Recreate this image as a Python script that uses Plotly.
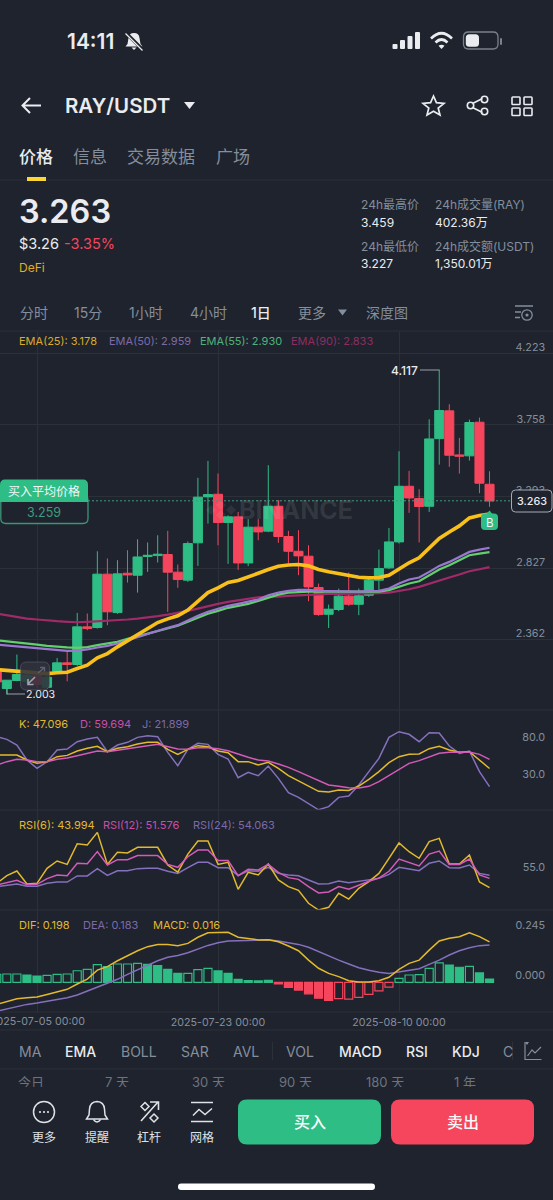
import pandas as pd
import plotly.graph_objects as go

BG = "#1e232d"
GRID = "#2b3039"
GREY = "#848e9c"
WHITE = "#eaecef"
UP = "#2ebd85"
DOWN = "#f6465d"
YELLOW = "#e3b92d"
PINK = "#d55bb9"
PURPLE = "#8570bd"

dates = pd.date_range("2025-07-01", periods=50)

candle_open = [2.151, 2.043, 2.095, 2.09, 2.13, 2.051, 2.155, 2.210, 2.199, 2.444,
               2.440, 2.787, 2.537, 2.793, 2.780, 2.902, 2.908, 2.915, 2.800, 2.748,
               2.991, 3.290, 3.307, 3.123, 3.160, 2.860, 3.093, 3.067, 3.229, 3.032,
               2.936, 2.904, 2.700, 2.526, 2.557, 2.644, 2.591, 2.650, 2.748, 2.828,
               2.997, 3.359, 3.279, 3.229, 3.669, 3.850, 3.563, 3.557, 3.776, 3.372]
candle_high = [2.16, 2.097, 2.264, 2.16, 2.15, 2.125, 2.242, 2.281, 2.535, 2.531,
               2.936, 2.889, 2.878, 2.943, 3.014, 2.993, 3.040, 3.069, 2.850, 3.000,
               3.414, 3.524, 3.442, 3.170, 3.192, 3.145, 3.145, 3.496, 3.268, 3.069,
               3.073, 2.975, 2.726, 2.589, 2.693, 2.798, 2.693, 2.776, 2.947, 3.088,
               3.587, 3.459, 3.340, 3.795, 4.117, 3.893, 3.674, 3.793, 3.806, 3.457]
candle_low = [2.07, 2.003, 2.09, 2.07, 2.05, 2.04, 2.15, 2.090, 2.19, 2.422,
              2.433, 2.455, 2.529, 2.732, 2.667, 2.802, 2.863, 2.542, 2.698, 2.737,
              2.841, 3.116, 2.975, 2.854, 2.815, 2.839, 3.008, 3.06, 2.991, 2.858,
              2.780, 2.611, 2.516, 2.437, 2.546, 2.581, 2.520, 2.639, 2.683, 2.82,
              2.986, 3.186, 2.993, 3.192, 3.500, 3.485, 3.442, 3.526, 3.314, 3.225]
candle_close = [2.086, 2.097, 2.134, 2.13, 2.07, 2.116, 2.210, 2.199, 2.444, 2.433,
                2.787, 2.542, 2.789, 2.782, 2.899, 2.910, 2.917, 2.800, 2.752, 2.986,
                3.288, 3.305, 3.123, 3.160, 2.860, 3.093, 3.062, 3.229, 3.032, 2.936,
                2.906, 2.704, 2.524, 2.559, 2.644, 2.591, 2.646, 2.748, 2.824, 2.997,
                3.359, 3.283, 3.227, 3.667, 3.852, 3.561, 3.555, 3.774, 3.379, 3.263]

ema25 = [2.166, 2.160, 2.156, 2.149, 2.143, 2.140, 2.145, 2.149, 2.173, 2.195,
         2.242, 2.270, 2.314, 2.353, 2.396, 2.433, 2.472, 2.496, 2.516, 2.553,
         2.611, 2.667, 2.698, 2.733, 2.746, 2.767, 2.793, 2.817, 2.839, 2.847,
         2.850, 2.841, 2.817, 2.802, 2.789, 2.776, 2.767, 2.763, 2.765, 2.780,
         2.824, 2.861, 2.893, 2.954, 3.019, 3.062, 3.101, 3.153, 3.169, 3.178]
ema50 = [2.329, 2.323, 2.316, 2.310, 2.303, 2.297, 2.292, 2.288, 2.290, 2.297,
         2.310, 2.320, 2.336, 2.357, 2.379, 2.401, 2.422, 2.438, 2.455, 2.487,
         2.516, 2.542, 2.563, 2.581, 2.594, 2.607, 2.622, 2.650, 2.667, 2.678,
         2.685, 2.685, 2.678, 2.676, 2.674, 2.674, 2.674, 2.676, 2.678, 2.694,
         2.726, 2.752, 2.765, 2.802, 2.841, 2.867, 2.900, 2.932, 2.947, 2.959]
ema55 = [2.357, 2.351, 2.342, 2.336, 2.329, 2.320, 2.314, 2.310, 2.307, 2.312,
         2.325, 2.336, 2.347, 2.366, 2.383, 2.401, 2.418, 2.433, 2.451, 2.477,
         2.503, 2.529, 2.548, 2.568, 2.581, 2.594, 2.613, 2.635, 2.654, 2.667,
         2.672, 2.674, 2.674, 2.674, 2.672, 2.672, 2.672, 2.672, 2.674, 2.683,
         2.704, 2.726, 2.741, 2.780, 2.817, 2.845, 2.878, 2.910, 2.921, 2.930]
ema90 = [2.531, 2.520, 2.509, 2.498, 2.492, 2.485, 2.481, 2.477, 2.474, 2.477,
         2.481, 2.483, 2.485, 2.492, 2.498, 2.505, 2.514, 2.524, 2.535, 2.548,
         2.563, 2.581, 2.594, 2.607, 2.618, 2.629, 2.637, 2.641, 2.641, 2.646,
         2.650, 2.654, 2.657, 2.659, 2.659, 2.659, 2.659, 2.661, 2.663, 2.667,
         2.676, 2.689, 2.704, 2.726, 2.748, 2.765, 2.785, 2.806, 2.819, 2.833]

kdj_k = [65.7, 66.2, 65.7, 58.8, 54.2, 56.5, 63.4, 65.2, 71.2, 74.9,
         77.7, 70.3, 74.9, 77.2, 80.9, 83.2, 83.2, 73.5, 66.6, 73.5,
         78.6, 77.2, 71.2, 68.9, 56.5, 56.5, 51.9, 55.6, 47.3, 37.1,
         30.2, 22.8, 15.5, 14.5, 17.3, 16.8, 22.8, 32.0, 42.7, 55.1,
         63.4, 66.6, 67.1, 74.4, 77.7, 72.6, 69.4, 70.3, 58.8, 47.1]
kdj_d = [51.9, 56.5, 59.7, 58.8, 56.5, 56.5, 59.7, 61.5, 64.8, 68.0,
         71.2, 70.3, 72.6, 74.0, 76.3, 78.6, 80.4, 77.7, 74.0, 73.5,
         75.8, 75.8, 74.4, 71.7, 66.6, 62.5, 58.8, 57.4, 53.3, 48.6,
         42.7, 36.7, 29.7, 24.2, 22.4, 20.5, 20.1, 22.4, 28.8, 37.1,
         46.3, 54.2, 57.9, 63.4, 68.0, 69.4, 69.8, 69.8, 66.6, 59.7]
kdj_j = [91.0, 87.3, 79.5, 58.8, 47.3, 56.5, 72.6, 74.0, 84.1, 87.8,
         90.1, 70.3, 79.5, 83.2, 90.1, 92.4, 91.0, 69.4, 50.9, 73.5,
         81.8, 80.4, 66.6, 60.2, 34.4, 41.7, 37.1, 50.5, 33.4, 13.6,
         7.2, -1.1, -10.0, -5.7, 7.2, 9.0, 24.2, 42.7, 61.1, 90.1,
         97.9, 94.3, 84.1, 96.6, 96.1, 78.1, 68.0, 71.2, 42.7, 21.9]

rsi6 = [47.5, 53.8, 57.7, 47.0, 47.5, 59.9, 65.9, 63.1, 80.1, 79.0,
        89.4, 63.1, 73.0, 72.5, 77.1, 77.1, 77.1, 62.6, 56.8, 71.6,
        82.3, 82.3, 63.1, 64.8, 42.6, 56.6, 54.4, 63.4, 50.3, 44.8,
        41.8, 31.1, 25.6, 27.8, 39.3, 34.6, 43.4, 48.9, 55.7, 68.1,
        80.7, 73.5, 68.1, 81.8, 84.5, 63.4, 63.4, 70.8, 48.6, 44.0]
rsi12 = [46.2, 48.3, 50.0, 46.4, 46.7, 51.4, 54.4, 53.8, 64.0, 63.7,
         73.6, 62.6, 67.0, 67.0, 70.3, 70.3, 70.3, 63.1, 60.7, 69.4,
         74.9, 74.9, 66.2, 66.2, 53.8, 59.0, 58.5, 63.1, 56.6, 52.2,
         50.8, 44.8, 39.6, 40.4, 44.8, 42.6, 46.2, 49.2, 51.9, 57.4,
         67.5, 64.5, 61.8, 71.6, 74.1, 63.1, 63.1, 67.5, 54.4, 51.6]
rsi24 = [44.8, 46.2, 47.0, 45.1, 45.1, 47.5, 48.6, 48.6, 53.6, 53.6,
         59.6, 54.1, 57.9, 57.9, 59.6, 59.9, 59.9, 57.4, 55.7, 60.4,
         64.8, 64.8, 60.4, 60.4, 53.8, 57.9, 57.4, 60.7, 55.7, 54.4,
         53.8, 50.3, 47.0, 47.2, 49.4, 48.1, 49.4, 50.5, 51.6, 54.9,
         60.7, 59.3, 57.9, 64.0, 65.9, 60.4, 60.1, 62.6, 55.7, 54.1]

macd_dif = [-0.108, -0.095, -0.080, -0.075, -0.072, -0.059, -0.046, -0.034, -0.008, 0.016,
            0.060, 0.077, 0.106, 0.132, 0.155, 0.175, 0.185, 0.185, 0.180, 0.191,
            0.221, 0.243, 0.243, 0.245, 0.221, 0.214, 0.208, 0.209, 0.199, 0.178,
            0.155, 0.109, 0.069, 0.044, 0.028, 0.008, 0.002, 0.002, 0.008, 0.025,
            0.064, 0.093, 0.109, 0.158, 0.203, 0.216, 0.224, 0.243, 0.224, 0.198]
macd_dea = [-0.141, -0.129, -0.118, -0.108, -0.101, -0.092, -0.083, -0.075, -0.062, -0.042,
            -0.025, -0.005, 0.015, 0.039, 0.060, 0.085, 0.106, 0.123, 0.132, 0.145,
            0.162, 0.181, 0.194, 0.203, 0.204, 0.206, 0.208, 0.209, 0.203, 0.194,
            0.186, 0.172, 0.150, 0.131, 0.109, 0.090, 0.072, 0.059, 0.049, 0.044,
            0.051, 0.057, 0.067, 0.088, 0.109, 0.134, 0.155, 0.170, 0.180, 0.183]
macd_hist = [0.039, 0.041, 0.041, 0.036, 0.031, 0.034, 0.039, 0.041, 0.057, 0.064,
             0.087, 0.077, 0.090, 0.090, 0.093, 0.088, 0.082, 0.064, 0.044, 0.044,
             0.062, 0.069, 0.056, 0.044, 0.015, 0.008, 0.007, 0.010, -0.008, -0.025,
             -0.038, -0.056, -0.078, -0.088, -0.080, -0.082, -0.074, -0.059, -0.042, -0.023,
             0.020, 0.036, 0.038, 0.069, 0.095, 0.085, 0.074, 0.078, 0.046, 0.016]
macd_hollow = [1, 1, 1, 0, 0, 1, 1, 1, 1, 1,
               1, 0, 1, 1, 1, 0, 0, 0, 0, 1,
               1, 1, 0, 0, 0, 0, 0, 0, 0, 0,
               0, 0, 0, 0, 1, 1, 1, 1, 1, 1,
               1, 1, 1, 1, 1, 0, 0, 1, 0, 0]

main_ticks = [4.223, 3.758, 3.293, 2.827, 2.362, 1.897]
kdj_ticks = [80.0, 30.0]
rsi_ticks = [55.0]
macd_ticks = [0.245, 0.000]
date_ticks = ["2025-07-05", "2025-07-23", "2025-08-10"]
date_labels = ["2025-07-05 00:00", "2025-07-23 00:00", "2025-08-10 00:00"]
x_window = ["2025-07-01 07:40", "2025-08-25 07:30"]

W, H = 553, 1200


def dom(top, bottom):
    return [1 - bottom / H, 1 - top / H]


fig = go.Figure()

for vals, color, lw, name in [
    (ema90, "#a12a69", 2.2, "EMA(90)"),
    (ema55, "#62cf6d", 2.2, "EMA(55)"),
    (ema50, "#9a78cf", 2.2, "EMA(50)"),
]:
    fig.add_trace(go.Scatter(x=dates, y=vals, mode="lines", name=name,
                             line=dict(color=color, width=lw), xaxis="x", yaxis="y"))

fig.add_trace(go.Candlestick(
    x=dates, open=candle_open, high=candle_high, low=candle_low, close=candle_close,
    increasing=dict(line=dict(color=UP, width=1), fillcolor=UP),
    decreasing=dict(line=dict(color=DOWN, width=1), fillcolor=DOWN),
    whiskerwidth=0, xaxis="x", yaxis="y"))
fig.add_trace(go.Scatter(x=dates, y=ema25, mode="lines", name="EMA(25)",
                         line=dict(color="#f9bf1b", width=3.6), xaxis="x", yaxis="y"))

for vals, color in [(kdj_j, PURPLE), (kdj_k, YELLOW), (kdj_d, PINK)]:
    fig.add_trace(go.Scatter(x=dates, y=vals, mode="lines",
                             line=dict(color=color, width=1.5), xaxis="x2", yaxis="y2"))
for vals, color in [(rsi24, PURPLE), (rsi6, YELLOW), (rsi12, PINK)]:
    fig.add_trace(go.Scatter(x=dates, y=vals, mode="lines",
                             line=dict(color=color, width=1.5), xaxis="x3", yaxis="y3"))

# hollow bars keep the outline colour, filled ones are solid
bar_line = [UP if v >= 0 else DOWN for v in macd_hist]
bar_fill = [BG if h else c for h, c in zip(macd_hollow, bar_line)]
fig.add_trace(go.Bar(x=dates, y=macd_hist, width=0.8 * 86400000,
                     marker=dict(color=bar_fill, line=dict(color=bar_line, width=1.2)),
                     xaxis="x4", yaxis="y4"))
fig.add_trace(go.Scatter(x=dates, y=macd_dea, mode="lines",
                         line=dict(color=PURPLE, width=1.5), xaxis="x4", yaxis="y4"))
fig.add_trace(go.Scatter(x=dates, y=macd_dif, mode="lines",
                         line=dict(color=YELLOW, width=1.5), xaxis="x4", yaxis="y4"))

# pixel-space helper axes for the app chrome around the chart
fig.add_trace(go.Scatter(x=[0], y=[0], mode="markers", marker=dict(opacity=0), xaxis="x5", yaxis="y5"))
range_labels = ["今日", "7 天", "30 天", "90 天", "180 天", "1 年"]
range_x = [18, 105, 192, 279, 366, 454]
fig.add_trace(go.Scatter(x=range_x, y=[1083.5] * 6, text=range_labels, mode="text",
                         textposition="middle right", cliponaxis=True,
                         textfont=dict(size=13, color="#6d7480",
                                       family="Inter, Noto Sans CJK SC"),
                         xaxis="x6", yaxis="y6"))


def x_axis(anchor, labels=False):
    return dict(type="date", range=x_window, domain=[0, 1], anchor=anchor,
                showgrid=True, gridcolor=GRID, gridwidth=1, zeroline=False,
                tickvals=date_ticks, ticktext=date_labels, ticks="",
                showticklabels=labels, rangeslider=dict(visible=False),
                ticklabelstandoff=3,
                tickfont=dict(size=10.7, color=GREY, family="Inter"))


def y_axis(anchor, top, bottom, rng, ticks, text, shift, grid=False):
    return dict(domain=dom(top, bottom), range=rng, anchor=anchor, side="right",
                tickvals=ticks, ticktext=text, showgrid=grid, gridcolor=GRID,
                gridwidth=1, zeroline=False, ticks="inside", ticklen=7,
                tickcolor="rgba(0,0,0,0)", ticklabelposition="inside",
                ticklabelshift=shift, tickfont=dict(size=10.8, color=GREY, family="Inter"))


layout_axes = dict(
    xaxis=x_axis("y"),
    xaxis2=x_axis("y2"),
    xaxis3=x_axis("y3"),
    xaxis4=x_axis("y4", labels=True),
    yaxis=y_axis("x", 332, 711, [1.8965, 4.363], main_ticks, [f"{v:.3f}" for v in main_ticks], -6, grid=True),
    yaxis2=y_axis("x2", 710, 810, [-10.3, 127.9], kdj_ticks, [f"{v:.1f}" for v in kdj_ticks], -7),
    yaxis3=y_axis("x3", 810, 910, [25.6, 107.8], rsi_ticks, [f"{v:.1f}" for v in rsi_ticks], -7),
    yaxis4=y_axis("x4", 910, 1011.7, [-0.1438, 0.3546], macd_ticks, [f"{v:.3f}" for v in macd_ticks], -7),
    xaxis5=dict(range=[0, W], domain=[0, 1], visible=False, anchor="y5"),
    yaxis5=dict(range=[H, 0], domain=[0, 1], visible=False, anchor="x5"),
    xaxis6=dict(range=[0, W], domain=[0, 1], visible=False, anchor="y6"),
    yaxis6=dict(range=[1087, 1070], domain=dom(1070, 1087), visible=False, anchor="x6"),
)

shapes = []
notes = []


def rr(x0, y0, x1, y1, r):
    return (f"M{x0 + r} {y0} L{x1 - r} {y0} Q{x1} {y0} {x1} {y0 + r} L{x1} {y1 - r} "
            f"Q{x1} {y1} {x1 - r} {y1} L{x0 + r} {y1} Q{x0} {y1} {x0} {y1 - r} "
            f"L{x0} {y0 + r} Q{x0} {y0} {x0 + r} {y0} Z")


def path(d, fill=None, stroke=None, sw=1.6, layer="above"):
    shapes.append(dict(type="path", path=d, xref="x5", yref="y5", layer=layer,
                       fillcolor=fill or "rgba(0,0,0,0)",
                       line=dict(color=stroke or "rgba(0,0,0,0)", width=sw if stroke else 0)))


def circle(cx, cy, r, fill=None, stroke=None, sw=1.6):
    shapes.append(dict(type="circle", x0=cx - r, x1=cx + r, y0=cy - r, y1=cy + r,
                       xref="x5", yref="y5", fillcolor=fill or "rgba(0,0,0,0)",
                       line=dict(color=stroke or "rgba(0,0,0,0)", width=sw if stroke else 0)))


def hline(y, x0=0, x1=W, color=GRID, dash="solid", layer="below"):
    shapes.append(dict(type="line", x0=x0, x1=x1, y0=y, y1=y, xref="x5", yref="y5",
                       layer=layer, line=dict(color=color, width=1, dash=dash)))


def label(x, y, text, size=12, color=GREY, anchor="left", weight=400):
    # annotation boxes carry about 1.5px of side bearing on the left
    if anchor == "left":
        x = x - 1.5
    notes.append(dict(x=x, y=y, text=text, xref="x5", yref="y5", showarrow=False,
                      xanchor=anchor, yanchor="middle", borderpad=0,
                      font=dict(size=size, color=color, weight=weight,
                                family="Inter, Noto Sans CJK SC")))


# separators
for y in [180, 331, 710, 810, 910, 1012, 1030, 1069]:
    hline(y)

# first date label runs off the left edge, plotly drops such tick labels
label(37, 1021.5, date_labels[0], 10.7, GREY, anchor="center")

# status bar
label(67, 41.5, "14:11", 21, WHITE, weight=600)
path("M134 33 Q129 33 128.5 38 L127.5 44 L125.5 46.5 L142.5 46.5 L140.5 44 L139.5 38 Q139 33 134 33 Z", fill=WHITE)
path("M131.5 47.5 L136.5 47.5 L134 50 Z", fill=WHITE)
path("M126 33 L143 50", stroke=BG, sw=3.4)
path("M125.5 33.5 L142.5 50.5", stroke=WHITE, sw=1.3)
for x0, y0 in [(392.5, 44), (400, 40), (407.5, 36), (415, 32)]:
    path(rr(x0, y0, x0 + 5, 49, 1), fill=WHITE)
path("M431 38.5 Q441.5 28 452 38.5", stroke=WHITE, sw=2.6)
path("M435.5 42.5 Q441.5 36.5 447.5 42.5", stroke=WHITE, sw=2.6)
path("M438.5 45.8 Q441.5 43.6 444.5 45.8 L441.5 49 Z", fill=WHITE)
path(rr(463.5, 32, 498, 49, 5), stroke="#7b8089", sw=1.3)
path(rr(465.8, 34.2, 479, 46.8, 3.5), fill=WHITE)
path(rr(500, 38, 502, 45, 1), fill="#7b8089")

# nav row
path("M22.5 105.5 L41 105.5 M30 98 L22.5 105.5 L30 113", stroke=WHITE, sw=2)
label(65, 105.5, "RAY/USDT", 20.5, WHITE, weight=600)
path("M184 102 L195 102 L189.5 109 Z", fill=WHITE)
path("M433.5 96 L436.4 102.6 L444 103.3 L438.2 108 L440 115 L433.5 111.2 L427 115 L428.8 108 L423 103.3 L430.6 102.6 Z",
     stroke=WHITE, sw=1.7)
path("M472.5 103.5 L482.5 98.5 M472.5 107.5 L482.5 112.5", stroke=WHITE, sw=1.6)
circle(470.5, 105.5, 3.2, stroke=WHITE)
circle(484.5, 99.5, 3.2, stroke=WHITE)
circle(484.5, 111.5, 3.2, stroke=WHITE)
for x0 in (512, 524):
    for y0 in (97, 108):
        path(rr(x0, y0, x0 + 8, y0 + 7.5, 0.8), stroke=WHITE, sw=1.6)

# tabs
label(19.5, 156.5, "价格", 17, WHITE, weight=500)
label(73, 156.5, "信息", 17, GREY)
label(127.5, 156.5, "交易数据", 17, GREY)
label(216, 156.5, "广场", 17, GREY)
path("M27 177 L46 177 L46 181 L27 181 Z", fill="#fcd535")

# price block
label(19.5, 211, "3.263", 32.5, WHITE, weight=600)
label(19, 243, "$3.26", 14.5, WHITE)
label(64, 243, "-3.35%", 14.5, DOWN)
label(19, 267, "DeFi", 12, "#e0ae1f")
label(361.5, 204, "24h最高价", 12, GREY)
label(361.5, 222, "3.459", 12, WHITE)
label(361.5, 246, "24h最低价", 12, GREY)
label(361.5, 263, "3.227", 12, WHITE)
label(435.5, 204, "24h成交量(RAY)", 12, GREY)
label(435.5, 222, "402.36万", 12, WHITE)
label(435.5, 246, "24h成交额(USDT)", 12, GREY)
label(435.5, 263, "1,350.01万", 12, WHITE)

# interval row
for x, t in [(20.5, "分时"), (74, "15分"), (129, "1小时"), (190, "4小时"), (298, "更多"), (366, "深度图")]:
    label(x, 312.5, t, 14, GREY)
label(251.5, 312.5, "1日", 14, WHITE, weight=500)
path("M338 309.5 L347 309.5 L342.5 315.5 Z", fill=GREY)
path("M515 306 L533 306 M515 312 L521 312 M515 317.5 L520 317.5", stroke=GREY, sw=1.3)
circle(527, 315, 5.2, stroke=GREY, sw=1.3)
circle(527, 315, 1.6, fill=GREY)

# indicator legends
label(19, 341, "EMA(25): 3.178", 11, "#dcab2b")
label(109.5, 341, "EMA(50): 2.959", 11, "#7d6aa8")
label(200, 341, "EMA(55): 2.930", 11, "#4eb37a")
label(291, 341, "EMA(90): 2.833", 11, "#8f2d62")
label(19, 724, "K: 47.096", 11, YELLOW)
label(80, 724, "D: 59.694", 11, "#c94fa8")
label(142, 724, "J: 21.899", 11, "#7d6aa8")
label(19, 825, "RSI(6): 43.994", 11, YELLOW)
label(103, 825, "RSI(12): 51.576", 11, "#c94fa8")
label(193, 825, "RSI(24): 54.063", 11, "#7d6aa8")
label(19, 925, "DIF: 0.198", 11, YELLOW)
label(83.5, 925, "DEA: 0.183", 11, "#7d6aa8")
label(153, 925, "MACD: 0.016", 11, YELLOW)

# watermark
label(296, 510, "BINANCE", 25, "rgba(255,255,255,0.10)", anchor="center", weight=700)
path("M221 500 L226 505 L221 510 L216 505 Z M221 510 L226 515 L221 520 L216 515 Z M211 505 L216 510 L211 515 L206 510 Z M231 505 L236 510 L231 515 L226 510 Z",
     fill="rgba(255,255,255,0.07)")

# buy-average marker and last-price tag
hline(500.8, 88, 512, color="#3f9c7e", dash="2px,2px", layer="above")
path(rr(0.8, 495, 88, 523.5, 5), fill=BG, stroke="#3d9478", sw=1.3)
path("M0 485 Q0 479.5 5 479.5 L83 479.5 Q88 479.5 88 485 L88 502 L0 502 Z", fill=UP)
label(44, 491, "买入平均价格", 12, "#f4f6f8", anchor="center")
label(44, 512.5, "3.259", 12.5, "#3f9c7e", anchor="center")
path(rr(511.5, 490, 552, 512, 4), fill=BG, stroke="#a5abb3", sw=1)
label(532.2, 501, "3.263", 10.8, WHITE, anchor="center", weight=500)
path(rr(481, 513.5, 498, 530, 4), fill=UP)
path("M486.5 514 L489.5 510.5 L492.5 514 Z", fill=UP)
label(489.7, 522.5, "B", 11.5, "#f4f6f8", anchor="center")

# high / low callouts
label(391.5, 370, "4.117", 12, WHITE, weight=500)
path("M420 370 L439.5 370", stroke="#9aa0a8", sw=1)
path("M7 688.5 L7 694 L25 694", stroke="#9aa0a8", sw=1)
label(26.5, 694, "2.003", 10.6, WHITE)

# zoom-out button floating over the candles
path(rr(20.5, 662, 49.5, 690, 6), fill="rgba(48,50,60,0.88)", stroke="rgba(110,112,125,0.45)", sw=1)
path("M38 673 L44 668 M40 667.5 L44.5 667.5 L44.5 671.5", stroke="#5e6270", sw=1.4)
path("M35 677 L28 684 M28 679 L28 684.5 L33.5 684.5", stroke="#9fa3ad", sw=1.6)

# indicator tabs
for x, t, col, wt in [(19.5, "MA", GREY, 400), (65, "EMA", WHITE, 500), (121, "BOLL", GREY, 400),
                      (181, "SAR", GREY, 400), (233, "AVL", GREY, 400), (286, "VOL", GREY, 400),
                      (339, "MACD", WHITE, 500), (406, "RSI", WHITE, 500), (452, "KDJ", WHITE, 500),
                      (503, "C", GREY, 400)]:
    label(x, 1051, t, 14, col, weight=wt)
path("M272.5 1042 L272.5 1060", stroke=GRID, sw=1)
path("M512.5 1042 L512.5 1060", stroke=GRID, sw=1)
path("M525 1042 L525 1059.5 L541.5 1059.5", stroke=GREY, sw=1.2)
path("M527.5 1056 L532 1050 L535 1053 L541 1047", stroke=GREY, sw=1.2)
path("M525 1042 L529 1042 L527 1045 Z", fill=GREY)

# bottom action bar
ICON = "#dfe2e6"
circle(44, 1112, 10.5, stroke=ICON, sw=1.5)
for dx in (-4, 0, 4):
    circle(44 + dx, 1112, 1.1, fill=ICON)
path("M97 1101.5 Q90 1102 89.5 1109 L89 1115 L86.5 1119 L107.5 1119 L105 1115 L104.5 1109 Q104 1102 97 1101.5 Z", stroke=ICON, sw=1.5)
path("M93.5 1119.5 Q97 1124.5 100.5 1119.5", stroke=ICON, sw=1.5)
path("M141 1121 L158 1102 M150 1102 L158.5 1102 L158.5 1110", stroke=ICON, sw=1.6)
path("M145 1102.5 L149 1106.5 L145 1110.5 L141 1106.5 Z", stroke=ICON, sw=1.5)
path("M154 1114 L158 1118 L154 1122 L150 1118 Z", stroke=ICON, sw=1.5)
path("M191 1102.5 L213 1102.5 M191 1121.5 L213 1121.5", stroke=ICON, sw=1.7)
path("M193 1115.5 L199 1109.5 L205 1114.5 L212 1108.5", stroke=ICON, sw=1.5)
for x, t in [(44, "更多"), (97, "提醒"), (149, "杠杆"), (202, "网格")]:
    label(x, 1137, t, 12, ICON, anchor="center")
path(rr(238, 1099.5, 381, 1144.5, 9), fill=UP)
path(rr(391, 1099.5, 534, 1144.5, 9), fill=DOWN)
label(309.5, 1122, "买入", 16, "#f8fafa", anchor="center", weight=500)
label(462.5, 1122, "卖出", 16, "#f8fafa", anchor="center", weight=500)
path(rr(178, 1183.5, 375, 1190, 3.2), fill="#ffffff")

fig.update_layout(
    width=W, height=H, autosize=False,
    margin=dict(l=0, r=0, t=0, b=0, pad=0),
    paper_bgcolor=BG, plot_bgcolor="rgba(0,0,0,0)",
    showlegend=False, hovermode=False,
    boxgap=0.1, boxgroupgap=0, bargap=0.1,
    font=dict(family="Inter, Noto Sans CJK SC", color=GREY),
    shapes=shapes, annotations=notes,
    **layout_axes,
)

fig.write_html("out.html", config=dict(displayModeBar=False),
               post_script="document.body.style.margin='0';document.body.style.background='%s';document.documentElement.style.overflow='hidden';" % BG)
